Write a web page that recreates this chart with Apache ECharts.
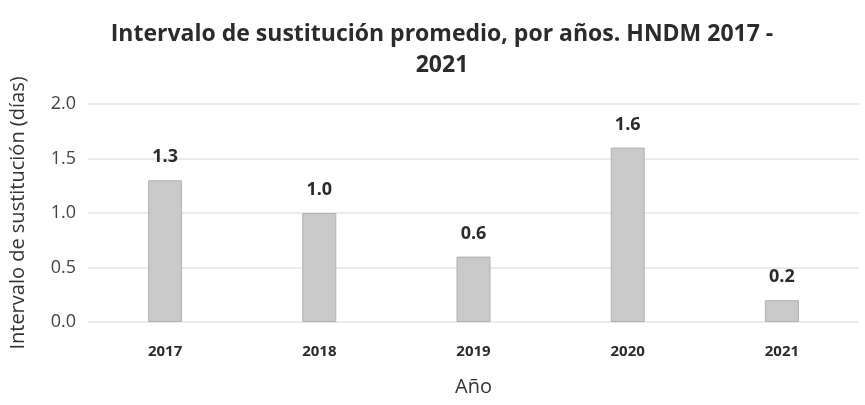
<!DOCTYPE html>
<html>
<head>
<meta charset="utf-8">
<script src="https://cdn.jsdelivr.net/npm/echarts@6/dist/echarts.min.js"></script>
<style>
  html, body { margin: 0; padding: 0; background: #fff; }
  #main { width: 865px; height: 405px; }
</style>
</head>
<body>
<div id="main"></div>
<script>
// datos
const years = ['2017', '2018', '2019', '2020', '2021'];
const intervalo = [1.3, 1.0, 0.6, 1.6, 0.2];
const yTicks = [0, 0.5, 1.0, 1.5, 2.0];

const font = '"Open Sans", "DejaVu Sans", sans-serif';

const chart = echarts.init(document.getElementById('main'));
chart.setOption({
  animation: false,
  title: {
    text: 'Intervalo de sustitución promedio, por años. HNDM 2017 -\n2021',
    left: 437,
    textAlign: 'center',
    top: 14,
    textStyle: { fontFamily: font, fontSize: 23, fontWeight: 'bold', color: '#2b2b2b', lineHeight: 31 }
  },
  grid: { left: 82, right: 6, top: 104, bottom: 83 },
  xAxis: {
    type: 'category',
    data: years,
    name: 'Año',
    nameLocation: 'middle',
    nameGap: 55,
    nameTextStyle: { fontFamily: font, fontSize: 20, color: '#333' },
    axisLine: { show: false },
    axisTick: { show: false },
    axisLabel: { fontFamily: font, fontSize: 15, fontWeight: 'bold', color: '#2b2b2b', margin: 22 }
  },
  yAxis: {
    type: 'value',
    min: yTicks[0],
    max: yTicks[yTicks.length - 1],
    interval: 0.5,
    name: 'Intervalo de sustitución (días)',
    nameLocation: 'middle',
    nameGap: 60,
    nameTextStyle: { fontFamily: font, fontSize: 20, color: '#333' },
    axisLine: { show: false },
    axisTick: { show: false },
    axisLabel: {
      fontFamily: font, fontSize: 18, color: '#444', margin: 12,
      formatter: v => v.toFixed(1)
    },
    splitLine: { lineStyle: { color: '#e4e4e4', width: 1.5 } }
  },
  series: [{
    type: 'bar',
    data: intervalo,
    barWidth: 34,
    itemStyle: { color: '#c9c9c9', borderColor: '#b0b0b0', borderWidth: 1 },
    label: {
      show: true,
      position: 'top',
      distance: 14,
      fontFamily: font, fontSize: 18, fontWeight: 'bold', color: '#2b2b2b',
      formatter: p => p.value.toFixed(1)
    }
  }]
});
</script>
</body>
</html>
